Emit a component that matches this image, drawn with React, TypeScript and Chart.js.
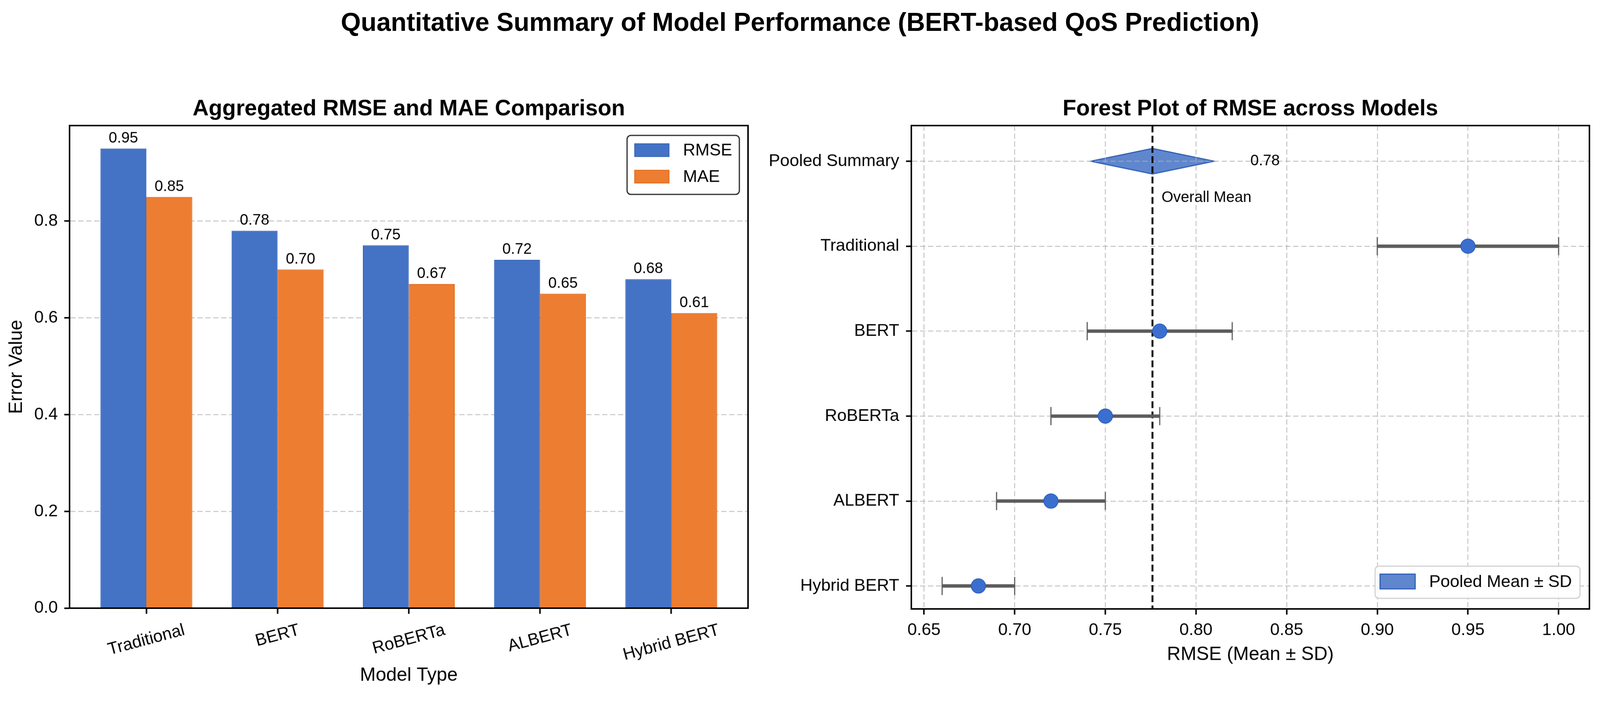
import React, { useEffect, useRef } from 'react';
import { Chart, registerables } from 'chart.js';

Chart.register(...registerables);

const FONT = '"Liberation Sans", Arial, Helvetica, sans-serif';

// ---------- data ----------
const MAIN_TITLE = 'Quantitative Summary of Model Performance (BERT-based QoS Prediction)';
const BAR_TITLE = 'Aggregated RMSE and MAE Comparison';
const FOREST_TITLE = 'Forest Plot of RMSE across Models';
const MODELS = ['Traditional', 'BERT', 'RoBERTa', 'ALBERT', 'Hybrid BERT'];
const SERIES = ['RMSE', 'MAE'];
const RMSE = [0.95, 0.78, 0.75, 0.72, 0.68];
const MAE = [0.85, 0.7, 0.67, 0.65, 0.61];
const RMSE_SD = [0.05, 0.04, 0.03, 0.03, 0.02];
const POOLED_MEAN = 0.776;
const POOLED_SD = 0.034;
const FOREST_ROWS = ['Pooled Summary', ...MODELS];
const BAR_Y_TICKS = [0, 0.2, 0.4, 0.6, 0.8];
const FOREST_X_TICKS = [0.65, 0.7, 0.75, 0.8, 0.85, 0.9, 0.95, 1.0];

// ---------- styles ----------
const W = 4233;
const H = 1837;
const BLUE = '#4472C4';
const BLUE_EDGE = '#3763B6';
const ORANGE = '#ED7D31';
const ORANGE_EDGE = '#DE6A1C';
const GRID = 'rgba(176,176,176,0.75)';
const DIAMOND_HALF = 0.15;

Chart.defaults.font.family = FONT;
Chart.defaults.color = '#000';

const barDecor = {
  id: 'barDecor',
  afterDatasetsDraw(chart: any) {
    const ctx = chart.ctx;
    ctx.save();
    ctx.font = `40px ${FONT}`;
    ctx.fillStyle = '#000';
    ctx.textAlign = 'center';
    ctx.textBaseline = 'alphabetic';
    chart.data.datasets.forEach((ds: any, di: number) => {
      const meta = chart.getDatasetMeta(di);
      meta.data.forEach((bar: any, i: number) => {
        const v = ds.data[i].y;
        ctx.fillText(v.toFixed(2), bar.x, bar.y - 16);
      });
    });
    ctx.restore();
  },
  afterDraw(chart: any) {
    const { ctx, chartArea: a, scales } = chart;
    const xs = scales.x;
    ctx.save();
    ctx.setLineDash([]);
    ctx.strokeStyle = '#000';
    ctx.lineWidth = 4;
    ctx.strokeRect(a.left, a.top, a.right - a.left, a.bottom - a.top);

    ctx.fillStyle = '#000';
    ctx.font = `bold 59px ${FONT}`;
    ctx.textAlign = 'center';
    ctx.textBaseline = 'alphabetic';
    ctx.fillText(BAR_TITLE, (a.left + a.right) / 2, a.top - 27);

    // rotated category labels
    const ang = (15 * Math.PI) / 180;
    ctx.font = `45px ${FONT}`;
    MODELS.forEach((m, i) => {
      const px = xs.getPixelForValue(i);
      const w = ctx.measureText(m).width;
      const h = 45 * 0.95;
      const bh = w * Math.sin(ang) + h * Math.cos(ang);
      const cy = a.bottom + 37 + bh / 2;
      ctx.save();
      ctx.translate(px, cy);
      ctx.rotate(-ang);
      ctx.textAlign = 'center';
      ctx.textBaseline = 'middle';
      ctx.fillText(m, 0, 0);
      ctx.restore();
    });

    ctx.font = `50px ${FONT}`;
    ctx.textAlign = 'center';
    ctx.textBaseline = 'alphabetic';
    ctx.fillText('Model Type', (a.left + a.right) / 2, a.bottom + 192);

    ctx.save();
    ctx.translate(44, (a.top + a.bottom) / 2);
    ctx.rotate(-Math.PI / 2);
    ctx.textBaseline = 'middle';
    ctx.fillText('Error Value', 0, 0);
    ctx.restore();

    // legend
    const bw = 297;
    const bh = 156;
    const bx = a.right - 23 - bw;
    const by = a.top + 26;
    ctx.beginPath();
    ctx.roundRect(bx, by, bw, bh, 10);
    ctx.fillStyle = 'rgba(255,255,255,0.85)';
    ctx.fill();
    ctx.lineWidth = 3;
    ctx.strokeStyle = '#222';
    ctx.stroke();
    const fills = [BLUE, ORANGE];
    const edges = [BLUE_EDGE, ORANGE_EDGE];
    SERIES.forEach((s, i) => {
      const py = by + 22 + i * 70;
      ctx.fillStyle = fills[i];
      ctx.fillRect(bx + 20, py, 91, 34);
      ctx.strokeStyle = edges[i];
      ctx.lineWidth = 2;
      ctx.strokeRect(bx + 20, py, 91, 34);
      ctx.fillStyle = '#000';
      ctx.font = `45px ${FONT}`;
      ctx.textAlign = 'left';
      ctx.textBaseline = 'middle';
      ctx.fillText(s, bx + 148, py + 19);
    });
    ctx.restore();
  },
};

const forestDecor = {
  id: 'forestDecor',
  beforeDraw(chart: any) {
    const { ctx, scales } = chart;
    const x = scales.x;
    const y = scales.y;
    const pts = [
      [POOLED_MEAN - POOLED_SD, 0],
      [POOLED_MEAN, -DIAMOND_HALF],
      [POOLED_MEAN + POOLED_SD, 0],
      [POOLED_MEAN, DIAMOND_HALF],
    ];
    ctx.save();
    ctx.beginPath();
    pts.forEach(([vx, vy], i) => {
      const px = x.getPixelForValue(vx);
      const py = y.getPixelForValue(vy);
      if (i === 0) ctx.moveTo(px, py);
      else ctx.lineTo(px, py);
    });
    ctx.closePath();
    ctx.fillStyle = 'rgba(68,114,196,0.85)';
    ctx.fill();
    ctx.strokeStyle = '#2F5DB8';
    ctx.lineWidth = 3;
    ctx.stroke();
    ctx.restore();
  },
  beforeDatasetsDraw(chart: any) {
    const { ctx, chartArea: a, scales } = chart;
    const px = scales.x.getPixelForValue(POOLED_MEAN);
    ctx.save();
    ctx.strokeStyle = '#000';
    ctx.lineWidth = 5;
    ctx.setLineDash([18, 9]);
    ctx.beginPath();
    ctx.moveTo(px, a.top);
    ctx.lineTo(px, a.bottom);
    ctx.stroke();
    ctx.restore();
  },
  afterDraw(chart: any) {
    const { ctx, chartArea: a, scales } = chart;
    const x = scales.x;
    const y = scales.y;
    ctx.save();
    ctx.setLineDash([]);
    ctx.strokeStyle = '#000';
    ctx.lineWidth = 4;
    ctx.strokeRect(a.left, a.top, a.right - a.left, a.bottom - a.top);

    ctx.fillStyle = '#000';
    ctx.font = `bold 59px ${FONT}`;
    ctx.textAlign = 'center';
    ctx.textBaseline = 'alphabetic';
    ctx.fillText(FOREST_TITLE, (a.left + a.right) / 2, a.top - 27);

    ctx.font = `50px ${FONT}`;
    ctx.fillText('RMSE (Mean \u00B1 SD)', (a.left + a.right) / 2, a.bottom + 135);

    ctx.font = `40px ${FONT}`;
    ctx.textAlign = 'left';
    ctx.textBaseline = 'middle';
    ctx.fillText(POOLED_MEAN.toFixed(2), x.getPixelForValue(POOLED_MEAN + POOLED_SD + 0.02), y.getPixelForValue(0));
    ctx.fillText('Overall Mean', x.getPixelForValue(POOLED_MEAN + 0.005), y.getPixelForValue(0.43));

    // legend
    const bw = 542;
    const bh = 85;
    const bx = a.right - 25 - bw;
    const by = a.bottom - 28 - bh;
    ctx.beginPath();
    ctx.roundRect(bx, by, bw, bh, 10);
    ctx.fillStyle = 'rgba(255,255,255,0.85)';
    ctx.fill();
    ctx.lineWidth = 3;
    ctx.strokeStyle = '#d0d0d0';
    ctx.stroke();
    ctx.fillStyle = 'rgba(68,114,196,0.85)';
    ctx.fillRect(bx + 13, by + 21, 93, 39);
    ctx.strokeStyle = '#2F5DB8';
    ctx.lineWidth = 3;
    ctx.strokeRect(bx + 13, by + 21, 93, 39);
    ctx.fillStyle = '#000';
    ctx.font = `45px ${FONT}`;
    ctx.textAlign = 'left';
    ctx.textBaseline = 'middle';
    ctx.fillText('Pooled Mean \u00B1 SD', bx + 143, by + 43);
    ctx.restore();
  },
};

export default function App() {
  const barRef = useRef<HTMLCanvasElement>(null);
  const forestRef = useRef<HTMLCanvasElement>(null);

  const vw = typeof window !== 'undefined' ? window.innerWidth || W : W;
  const vh = typeof window !== 'undefined' ? window.innerHeight || H : H;
  const scale = Math.min(vw / W, vh / H, 1.5);

  useEffect(() => {
    document.documentElement.style.overflow = 'hidden';
    document.body.style.margin = '0';
    document.body.style.overflow = 'hidden';
    const tickFont = { family: FONT, size: 45 };

    const barChart = new Chart(barRef.current as HTMLCanvasElement, {
      type: 'bar',
      data: {
        datasets: [
          {
            label: SERIES[0],
            data: RMSE.map((v, i) => ({ x: i, y: v })),
            backgroundColor: BLUE,
            borderColor: BLUE_EDGE,
            borderWidth: 2,
            categoryPercentage: 0.7,
            barPercentage: 1.0,
          },
          {
            label: SERIES[1],
            data: MAE.map((v, i) => ({ x: i, y: v })),
            backgroundColor: ORANGE,
            borderColor: ORANGE_EDGE,
            borderWidth: 2,
            categoryPercentage: 0.7,
            barPercentage: 1.0,
          },
        ],
      } as any,
      options: {
        responsive: false,
        animation: false,
        devicePixelRatio: 1,
        layout: { padding: { top: 132, right: 101, left: 0, bottom: 0 } },
        plugins: { legend: { display: false }, tooltip: { enabled: false }, title: { display: false } },
        scales: {
          x: {
            type: 'linear',
            min: -0.585,
            max: 4.585,
            offset: false,
            afterBuildTicks: (s: any) => {
              s.ticks = MODELS.map((_, i) => ({ value: i }));
            },
            afterFit: (s: any) => {
              s.height = 229;
            },
            grid: {
              offset: false,
              drawOnChartArea: false,
              drawTicks: true,
              tickLength: 15,
              tickWidth: 4,
              tickColor: '#000',
            },
            border: { display: true, color: '#000', width: 4 },
            ticks: { callback: () => '', padding: 0, font: tickFont },
          },
          y: {
            type: 'linear',
            min: 0,
            max: 0.9975,
            z: 1,
            afterBuildTicks: (s: any) => {
              s.ticks = BAR_Y_TICKS.map((v) => ({ value: v }));
            },
            afterFit: (s: any) => {
              s.width = 184;
            },
            grid: {
              color: GRID,
              lineWidth: 2.5,
              tickLength: 14,
              tickWidth: 4,
              tickColor: '#000',
              tickBorderDash: [],
            },
            border: { display: true, color: '#000', width: 4, dash: [14, 7] },
            ticks: {
              font: tickFont,
              color: '#000',
              padding: 17,
              callback: (v: any) => Number(v).toFixed(1),
            },
          },
        },
      } as any,
      plugins: [barDecor],
    });

    const forestChart = new Chart(forestRef.current as HTMLCanvasElement, {
      type: 'line',
      data: {
        datasets: [
          {
            label: 'Mean',
            data: RMSE.map((v, i) => ({ x: v, y: i + 1 })),
            showLine: false,
            pointRadius: 19,
            pointBackgroundColor: '#3A6FD0',
            pointBorderColor: '#2B5AB8',
            pointBorderWidth: 2,
            order: 0,
          },
          ...MODELS.map((m, i) => ({
            label: m,
            data: [
              { x: RMSE[i] - RMSE_SD[i], y: i + 1 },
              { x: RMSE[i] + RMSE_SD[i], y: i + 1 },
            ],
            borderColor: '#5c5c5c',
            borderWidth: 9,
            borderCapStyle: 'butt',
            fill: false,
            pointStyle: 'line',
            pointRotation: 90,
            pointRadius: 24,
            pointBorderWidth: 3,
            pointBorderColor: '#5c5c5c',
            order: 1,
          })),
        ],
      } as any,
      options: {
        responsive: false,
        animation: false,
        devicePixelRatio: 1,
        layout: { padding: { top: 132, right: 28, left: 0, bottom: 0 } },
        plugins: { legend: { display: false }, tooltip: { enabled: false }, title: { display: false } },
        scales: {
          x: {
            type: 'linear',
            min: 0.643,
            max: 1.017,
            afterBuildTicks: (s: any) => {
              s.ticks = FOREST_X_TICKS.map((v) => ({ value: v }));
            },
            afterFit: (s: any) => {
              s.height = 227;
            },
            grid: {
              color: GRID,
              lineWidth: 2.5,
              tickLength: 15,
              tickWidth: 4,
              tickColor: '#000',
              tickBorderDash: [],
            },
            border: { display: true, color: '#000', width: 4, dash: [14, 7] },
            ticks: {
              font: tickFont,
              color: '#000',
              padding: 15,
              maxRotation: 0,
              callback: (v: any) => Number(v).toFixed(2),
            },
          },
          y: {
            type: 'linear',
            reverse: true,
            min: -0.42,
            max: 5.27,
            afterBuildTicks: (s: any) => {
              s.ticks = FOREST_ROWS.map((_, i) => ({ value: i }));
            },
            afterFit: (s: any) => {
              s.width = 411;
            },
            grid: {
              color: GRID,
              lineWidth: 2.5,
              tickLength: 14,
              tickWidth: 4,
              tickColor: '#000',
              tickBorderDash: [],
            },
            border: { display: true, color: '#000', width: 4, dash: [14, 7] },
            ticks: {
              font: tickFont,
              color: '#000',
              padding: 18,
              callback: (v: any) => FOREST_ROWS[Math.round(Number(v))] ?? '',
            },
          },
        },
      } as any,
      plugins: [forestDecor],
    });

    return () => {
      barChart.destroy();
      forestChart.destroy();
    };
  }, []);

  return (
    <div style={{ width: W * scale, height: H * scale, overflow: 'hidden', background: '#fff' }}>
      <div
        style={{
          position: 'relative',
          width: W,
          height: H,
          background: '#fff',
          overflow: 'hidden',
          transform: `scale(${scale})`,
          transformOrigin: '0 0',
        }}
      >
        <div
          style={{
            position: 'absolute',
            left: 0,
            top: 18,
            width: W,
            textAlign: 'center',
            font: `bold 68px ${FONT}`,
            lineHeight: '80px',
            color: '#000',
            whiteSpace: 'nowrap',
          }}
        >
          {MAIN_TITLE}
        </div>
        <canvas
          ref={barRef}
          width={2080}
          height={1637}
          style={{ position: 'absolute', left: 0, top: 200, width: 2080, height: 1637 }}
        />
        <canvas
          ref={forestRef}
          width={2233}
          height={1637}
          style={{ position: 'absolute', left: 2000, top: 200, width: 2233, height: 1637 }}
        />
      </div>
    </div>
  );
}
